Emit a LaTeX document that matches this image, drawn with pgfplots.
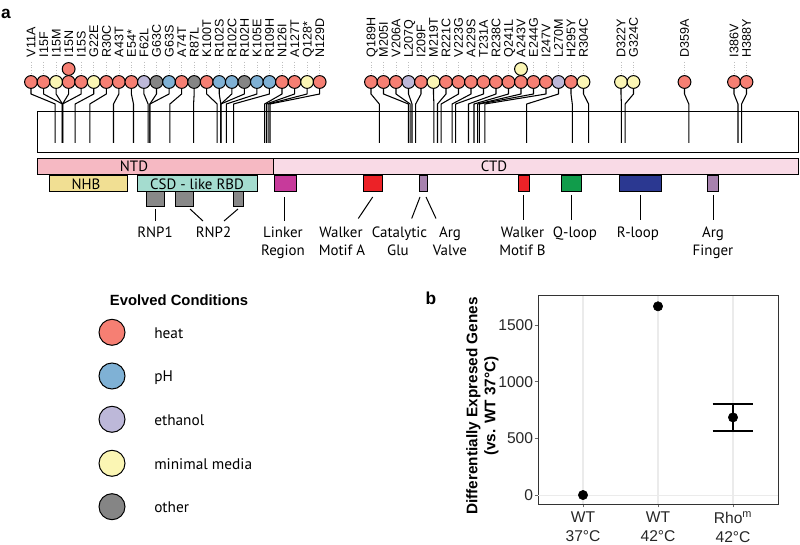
\documentclass[border=0pt]{standalone}
\usepackage{pgfplots}
\pgfplotsset{compat=1.18}
\usepackage{fontspec}
\setmainfont{Liberation Sans}
\newfontfamily\ptsans{PT Sans}

\definecolor{heat}{HTML}{F67F73}
\definecolor{ph}{HTML}{7FB1D5}
\definecolor{eth}{HTML}{BDB8D9}
\definecolor{mm}{HTML}{FBF6B4}
\definecolor{oth}{HTML}{858585}
\definecolor{ntd}{HTML}{F6B9C3}
\definecolor{ctd}{HTML}{F9DAE6}
\definecolor{nhb}{HTML}{F1DF93}
\definecolor{csd}{HTML}{A4DCCF}
\definecolor{rnp}{HTML}{888888}
\definecolor{linker}{HTML}{C73A9B}
\definecolor{walker}{HTML}{EC2227}
\definecolor{catal}{HTML}{A782AE}
\definecolor{qloop}{HTML}{119C4B}
\definecolor{rloop}{HTML}{2B3891}
\definecolor{gridc}{HTML}{EBEBEB}

\tikzset{
  conn/.style={black, line width=0.8pt, line join=round},
  dline/.style={black, line width=0.75pt},
  dotc/.style={draw=black!25, line width=0.5pt, dash pattern=on 0.5pt off 1.5pt},
  circ/.style={only marks, mark=*, mark size=4.8pt, mark options={draw=black, fill=#1, line width=0.75pt}},
  mutlab/.style={rotate=90, anchor=west, inner sep=0pt, text height=6.73pt, text depth=0pt, font=\fontsize{9.4}{10}\selectfont},
  dlab/.style={anchor=base, inner sep=0pt, font=\ptsans\fontsize{11.2}{13}\selectfont},
}

\newcommand\mut[4]{%
  \addplot[dotc] coordinates {(#1,62)(#1,75)};
  \addplot[conn] coordinates {(#1,88)(#1,94)(#2,104)(#2,143)};
  \addplot[circ=#4] coordinates {(#1,82)};
  \node[mutlab] at (axis cs:#1,57.5) {#3};
}
\newcommand\boxr[5]{%
  \addplot[draw=black, line width=0.75pt, fill=#5, line join=miter] coordinates {(#1,#3)(#2,#3)(#2,#4)(#1,#4)(#1,#3)(#2,#3)};
}

\begin{document}
\begin{tikzpicture}
\path[use as bounding box] (0,0) rectangle (600pt,408.75pt);
\begin{axis}[name=canvas, scale only axis, width=600pt, height=408.75pt,
  xmin=0, xmax=800, ymin=0, ymax=545, y dir=reverse, hide axis, clip=false]

% panel label
\node[anchor=base, inner sep=0pt, font=\bfseries\fontsize{13}{15}\selectfont] at (axis cs:6,18.3) {a};

% protein box and domains
\boxr{37}{798}{112}{153}{white}
\boxr{37}{273}{159}{175}{ntd}
\boxr{273}{798}{159}{175}{ctd}
\boxr{49}{127}{176}{191.5}{nhb}
\boxr{137}{257}{176}{191.5}{csd}
\boxr{146}{164}{191.5}{207}{rnp}
\boxr{175}{193}{191.5}{207}{rnp}
\boxr{233}{243}{191.5}{207}{rnp}
\boxr{274}{296}{176}{191.5}{linker}
\boxr{363}{382}{176}{191.5}{walker}
\boxr{419}{427}{176}{191.5}{catal}
\boxr{518}{529}{176}{191.5}{walker}
\boxr{561}{581}{176}{191.5}{qloop}
\boxr{619}{661}{176}{191.5}{rloop}
\boxr{707}{718}{176}{191.5}{catal}

\node[dlab] at (axis cs:134,171.7) {NTD};
\node[dlab] at (axis cs:494,171.7) {CTD};
\node[dlab] at (axis cs:86,189.3) {NHB};
\node[dlab] at (axis cs:197,189.3) {CSD - like RBD};

% domain pointer lines
\addplot[dline] coordinates {(155,209)(155,221)};
\addplot[dline] coordinates {(190,209)(203,221)};
\addplot[dline] coordinates {(238,209)(224,221)};
\addplot[dline] coordinates {(284,197)(284,221)};
\addplot[dline] coordinates {(372.7,197)(358.3,218.5)};
\addplot[dline] coordinates {(420,197)(411.7,218.5)};
\addplot[dline] coordinates {(426,197)(436,218.5)};
\addplot[dline] coordinates {(523,195)(523,220.5)};
\addplot[dline] coordinates {(571,195)(571,220.5)};
\addplot[dline] coordinates {(640,195)(640,220.5)};
\addplot[dline] coordinates {(713,195)(713,220.5)};

\node[dlab] at (axis cs:155,237.5) {RNP1};
\node[dlab] at (axis cs:213.5,237.5) {RNP2};
\node[dlab] at (axis cs:283,237.5) {Linker};
\node[dlab] at (axis cs:283,255.8) {Region};
\node[dlab] at (axis cs:341,237.5) {Walker};
\node[dlab] at (axis cs:342,255.8) {Motif A};
\node[dlab] at (axis cs:399.5,237.5) {Catalytic};
\node[dlab] at (axis cs:398,255.8) {Glu};
\node[dlab] at (axis cs:450,237.5) {Arg};
\node[dlab] at (axis cs:450,255.8) {Valve};
\node[dlab] at (axis cs:522.5,237.5) {Walker};
\node[dlab] at (axis cs:522.5,255.8) {Motif B};
\node[dlab] at (axis cs:575,237.5) {Q-loop};
\node[dlab] at (axis cs:638,237.5) {R-loop};
\node[dlab] at (axis cs:713,237.5) {Arg};
\node[dlab] at (axis cs:713,255.8) {Finger};

% mutations: circle x, residue x, label, condition
\mut{31}{55.2}{V11A}{heat}
\mut{43.55}{62.5}{I15F}{heat}
\mut{56.1}{62.5}{I15M}{mm}
\mut{68.65}{62.5}{I15N}{heat}
\mut{81.2}{62.5}{I15S}{heat}
\mut{93.75}{75.2}{G22E}{mm}
\mut{106.3}{89.8}{R30C}{heat}
\mut{118.85}{113.5}{A43T}{heat}
\mut{131.4}{133.5}{E54*}{heat}
\mut{143.95}{148.1}{F62L}{eth}
\mut{156.5}{149.9}{G63C}{oth}
\mut{169.05}{149.9}{G63S}{ph}
\mut{181.6}{169.9}{A74T}{heat}
\mut{194.15}{193.6}{R87L}{oth}
\mut{206.7}{217.2}{K100T}{heat}
\mut{219.25}{220.9}{R102S}{ph}
\mut{231.8}{220.9}{R102C}{ph}
\mut{244.35}{220.9}{R102H}{oth}
\mut{256.9}{226.3}{K105E}{ph}
\mut{269.45}{233.6}{R109H}{ph}
\mut{282}{264.6}{N126I}{heat}
\mut{294.55}{266.4}{A127T}{heat}
\mut{307.1}{268.2}{Q128*}{mm}
\mut{319.65}{270}{N129D}{heat}

\mut{371}{379.3}{Q189H}{heat}
\mut{383.5}{408.4}{M205I}{heat}
\mut{396}{410.2}{V206A}{heat}
\mut{408.5}{412}{L207Q}{eth}
\mut{421}{415.7}{I209F}{heat}
\mut{433.5}{433.9}{M219T}{mm}
\mut{446}{437.5}{R221C}{heat}
\mut{458.5}{441.2}{V223G}{heat}
\mut{471}{452.1}{A229S}{heat}
\mut{483.5}{455.7}{T231A}{heat}
\mut{496}{468.5}{R238C}{heat}
\mut{508.5}{474}{Q241L}{heat}
\mut{521}{477.6}{A243V}{heat}
\mut{533.5}{479.4}{E244G}{heat}
\mut{546}{484.9}{I247V}{heat}
\mut{558.5}{526.7}{L270M}{eth}
\mut{571}{572.3}{H295Y}{heat}
\mut{583.5}{588.6}{R304C}{mm}
\mut{621}{621.4}{D322Y}{mm}
\mut{633.5}{625.1}{G324C}{mm}
\mut{684.5}{688.8}{D359A}{heat}
\mut{734}{738}{I386V}{heat}
\mut{746.5}{741.6}{H388Y}{heat}

% second occurrences (stacked)
\addplot[circ=heat] coordinates {(68.65,69)};
\addplot[circ=mm] coordinates {(521,69)};

% legend
\node[anchor=base, inner sep=0pt, font=\bfseries\fontsize{11.1}{13}\selectfont] at (axis cs:179,306) {Evolved Conditions};
\addplot[only marks, mark=*, mark size=9.75pt, mark options={draw=black, fill=heat, line width=0.75pt}] coordinates {(112,332.3)};
\addplot[only marks, mark=*, mark size=9.75pt, mark options={draw=black, fill=ph, line width=0.75pt}] coordinates {(112,376)};
\addplot[only marks, mark=*, mark size=9.75pt, mark options={draw=black, fill=eth, line width=0.75pt}] coordinates {(112,419.3)};
\addplot[only marks, mark=*, mark size=9.75pt, mark options={draw=black, fill=mm, line width=0.75pt}] coordinates {(112,463.3)};
\addplot[only marks, mark=*, mark size=9.75pt, mark options={draw=black, fill=oth, line width=0.75pt}] coordinates {(112,506.7)};
\node[anchor=base west, inner sep=0pt, font=\ptsans\fontsize{11.5}{13}\selectfont] at (axis cs:154,338.3) {heat};
\node[anchor=base west, inner sep=0pt, font=\ptsans\fontsize{11.5}{13}\selectfont] at (axis cs:154,382) {pH};
\node[anchor=base west, inner sep=0pt, font=\ptsans\fontsize{11.5}{13}\selectfont] at (axis cs:154,425.3) {ethanol};
\node[anchor=base west, inner sep=0pt, font=\ptsans\fontsize{11.5}{13}\selectfont] at (axis cs:154,469.3) {minimal media};
\node[anchor=base west, inner sep=0pt, font=\ptsans\fontsize{11.5}{13}\selectfont] at (axis cs:154,512.7) {other};

% panel b labels
\node[anchor=base, inner sep=0pt, font=\bfseries\fontsize{13}{15}\selectfont] at (axis cs:431,305) {b};
\node[rotate=90, align=center, inner sep=0pt, font=\bfseries\fontsize{11.5}{13.5}\selectfont] at (axis cs:482.5,406) {Differentially Expresed Genes\\(vs. WT 37°C)};
\end{axis}

\begin{axis}[at={(403.5pt,30.75pt)}, anchor=south west, scale only axis,
  width=180pt, height=156.75pt,
  xmin=0.4, xmax=3.6, ymin=-79, ymax=1765,
  xtick={1,2,3},
  xticklabels={{WT\\37°C},{WT\\42°C},{Rho\textsuperscript{m}\\42°C}},
  ytick={0,500,1000,1500}, yticklabels={0,500,1000,1500},
  scaled y ticks=false,
  tick pos=left, tick align=outside, major tick length=2.5pt,
  tick style={black!60, line width=0.6pt},
  axis line style={black!80, line width=0.7pt},
  xmajorgrids, grid style={gridc, line width=0.8pt},
  ticklabel style={font=\fontsize{11.7}{14.2}\selectfont, text=black!85},
  xticklabel style={align=center},
  yticklabel style={inner sep=1pt},
  /pgf/number format/assume math mode=true]
\addplot[gridc, line width=0.8pt] coordinates {(0.4,0)(3.6,0)};
\addplot[black, line width=2.2pt] coordinates {(3,565)(3,803)};
\addplot[black, line width=2.2pt] coordinates {(2.727,803)(3.273,803)};
\addplot[black, line width=2.2pt] coordinates {(2.727,565)(3.273,565)};
\addplot[only marks, mark=*, mark size=3.5pt, black] coordinates {(1,0)(2,1665)(3,685)};
\end{axis}
\end{tikzpicture}
\end{document}
